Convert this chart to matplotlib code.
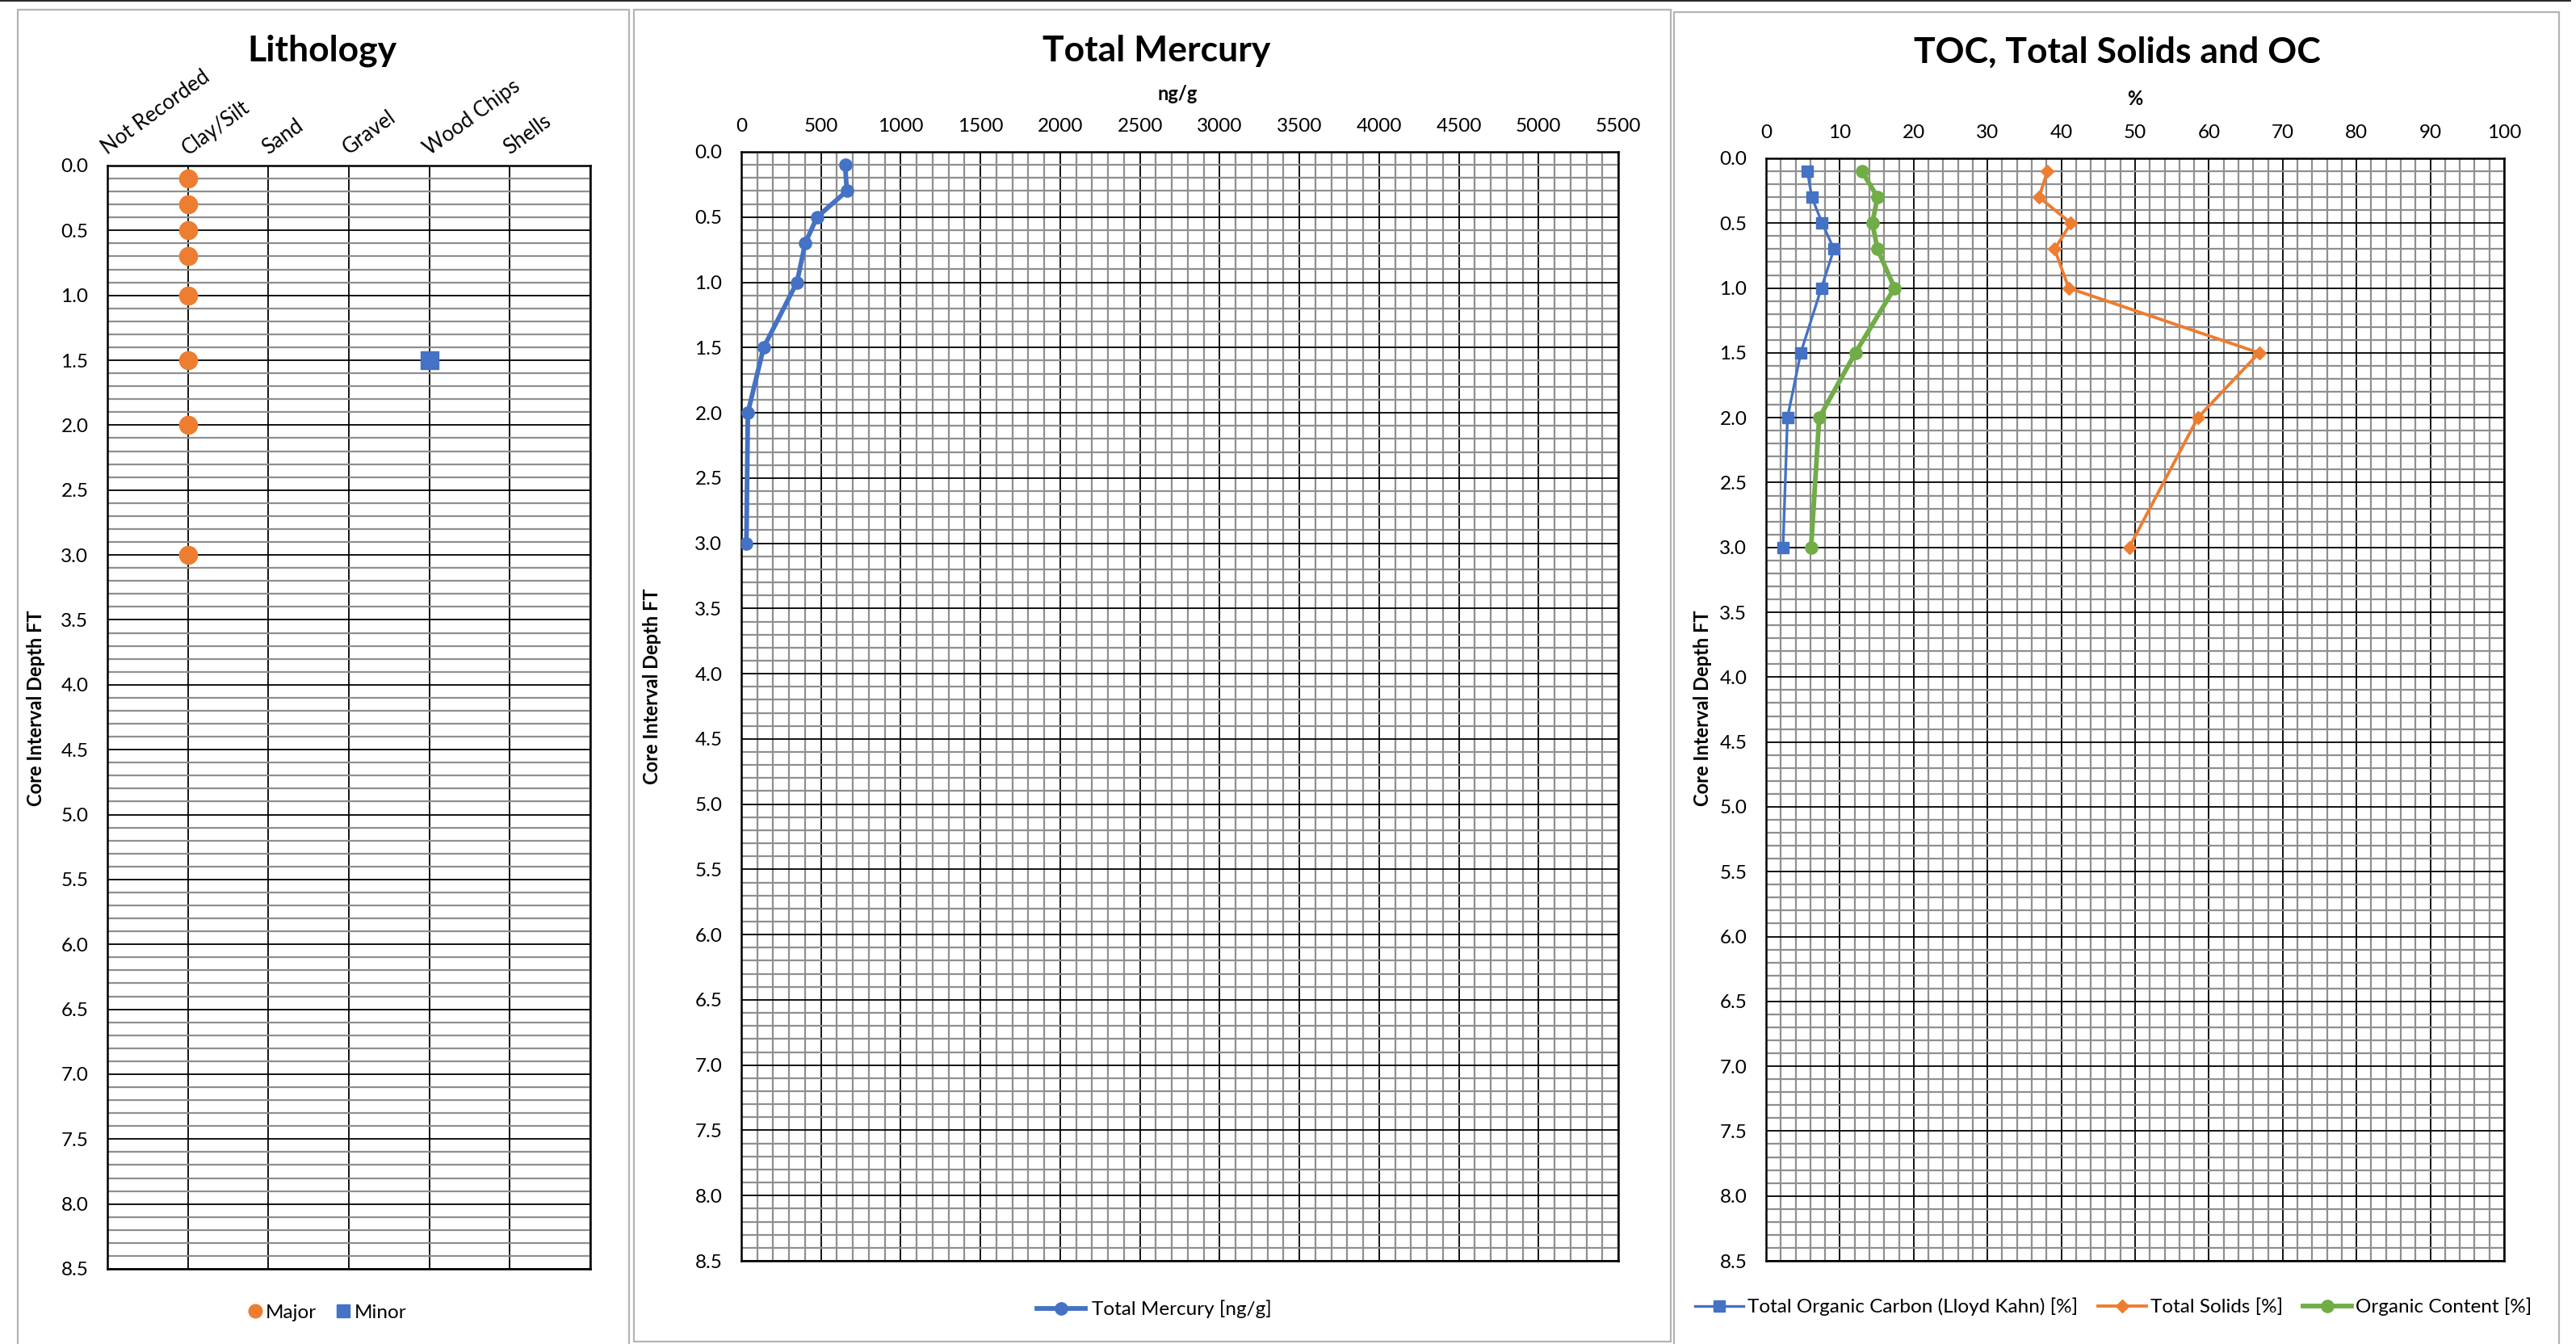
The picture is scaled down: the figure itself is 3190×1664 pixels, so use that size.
import matplotlib
matplotlib.use("Agg")
import matplotlib.pyplot as plt
from matplotlib.ticker import MultipleLocator, FormatStrFormatter
from matplotlib.patches import Rectangle
from matplotlib.lines import Line2D

plt.rcParams['font.family'] = ['Lato', 'DejaVu Sans']

# ---- data ----
litho_categories = ['Not Recorded', 'Clay/Silt', 'Sand', 'Gravel', 'Wood Chips', 'Shells']
major_depth = [0.1, 0.3, 0.5, 0.7, 1.0, 1.5, 2.0, 3.0]
major_type = ['Clay/Silt', 'Clay/Silt', 'Clay/Silt', 'Clay/Silt',
              'Clay/Silt', 'Clay/Silt', 'Clay/Silt', 'Clay/Silt']
minor_depth = [1.5]
minor_type = ['Wood Chips']

sample_depth = [0.1, 0.3, 0.5, 0.7, 1.0, 1.5, 2.0, 3.0]
mercury = [651, 662, 475, 401, 349, 140, 41, 32]
toc = [5.6, 6.2, 7.6, 9.2, 7.5, 4.7, 2.9, 2.3]
total_solids = [38.1, 37.0, 41.3, 39.1, 41.0, 66.8, 58.5, 49.2]
organic_content = [13.0, 15.1, 14.4, 15.1, 17.4, 12.1, 7.2, 6.1]

# ---- style ----
BLUE = '#4472C4'
ORANGE = '#ED7D31'
GREEN = '#70AD47'
MINOR_GRID = '#8f8f8f'
PANEL_EDGE = '#b4b4b4'
TICK_FS = 17.5
TITLE_FS = 32
LABEL_FS = 17

W, H = 3190, 1664
fig = plt.figure(figsize=(W / 100, H / 100), dpi=100)


def px_box(left, top, right, bottom):
    return [left / W, 1 - bottom / H, (right - left) / W, (bottom - top) / H]


def px_text(x, y, s, **kw):
    fig.text(x / W, 1 - y / H, s, ha='center', va='center', **kw)


def panel(left, top, right, bottom):
    fig.add_artist(Rectangle((left / W, 1 - bottom / H), (right - left) / W,
                             (bottom - top) / H, transform=fig.transFigure,
                             fill=False, ec=PANEL_EDGE, lw=1.6))


def depth_axis(ax, xmax, xmajor, xminor):
    ax.set_ylim(8.5, 0)
    ax.set_xlim(0, xmax)
    ax.yaxis.set_major_locator(MultipleLocator(0.5))
    ax.yaxis.set_minor_locator(MultipleLocator(0.1))
    ax.yaxis.set_major_formatter(FormatStrFormatter('%.1f'))
    ax.xaxis.set_major_locator(MultipleLocator(xmajor))
    if xminor:
        ax.xaxis.set_minor_locator(MultipleLocator(xminor))
    ax.xaxis.tick_top()
    ax.set_axisbelow(True)
    ax.grid(which='major', color='black', lw=1.3)
    ax.grid(which='minor', axis='y', color=MINOR_GRID, lw=1.6)
    if xminor:
        ax.grid(which='minor', axis='x', color=MINOR_GRID, lw=1.6)
    ax.tick_params(which='both', length=0, labelsize=TICK_FS)
    ax.tick_params(axis='y', pad=17)
    ax.tick_params(axis='x', pad=15)
    for sp in ax.spines.values():
        sp.set_color('black')
        sp.set_linewidth(1.8)


# thin rule across the top of the sheet
fig.add_artist(Line2D([0, 3183 / W], [1 - 1 / H, 1 - 1 / H], color='black', lw=1.2,
                      transform=fig.transFigure))

panel(22, 12, 779, 1700)
panel(785, 12, 2069, 1661)
panel(2073, 15, 3169, 1700)

# ---- Lithology ----
ax1 = fig.add_axes(px_box(133, 205, 731, 1571))
depth_axis(ax1, 6, 1, None)
ax1.set_xticks(range(7))
ax1.set_xticklabels(litho_categories + [''])
ax1.tick_params(axis='x', pad=9, labelsize=18.5)
major_x = [litho_categories.index(t) for t in major_type]
minor_x = [litho_categories.index(t) for t in minor_type]
ax1.plot(major_x, major_depth, ls='none', marker='o', ms=16, color=ORANGE,
         label='Major', zorder=3, clip_on=False)
ax1.plot(minor_x, minor_depth, ls='none', marker='s', ms=16, color=BLUE,
         label='Minor', zorder=3, clip_on=False)
plt.setp(ax1.get_xticklabels(), rotation=36, ha='left', va='baseline',
         rotation_mode='anchor')
px_text(399, 63, 'Lithology', fontsize=TITLE_FS, fontweight='bold')
px_text(45, 877, 'Core Interval Depth FT', fontsize=LABEL_FS, fontweight='bold', rotation=90)
fig.legend(handles=ax1.get_lines(), labels=['Major', 'Minor'], loc='center',
           bbox_to_anchor=(405 / W, 1 - 1625 / H), ncol=2, frameon=False,
           fontsize=TICK_FS, handlelength=0.7, handletextpad=0.2,
           columnspacing=1.0, markerscale=0.75)

# ---- Total Mercury ----
ax2 = fig.add_axes(px_box(918, 188, 2004, 1561))
depth_axis(ax2, 5500, 500, 100)
ax2.plot(mercury, sample_depth, color=BLUE, lw=4.2, marker='o', ms=11,
         label='Total Mercury [ng/g]', zorder=3)
px_text(1432, 63, 'Total Mercury', fontsize=TITLE_FS, fontweight='bold')
px_text(1458, 116, 'ng/g', fontsize=LABEL_FS, fontweight='bold')
px_text(807, 850, 'Core Interval Depth FT', fontsize=LABEL_FS, fontweight='bold', rotation=90)
fig.legend(handles=ax2.get_lines(), loc='center',
           bbox_to_anchor=(1429 / W, 1 - 1621 / H), frameon=False,
           fontsize=TICK_FS, handlelength=2.5, handletextpad=0.3)

# ---- TOC, Total Solids and OC ----
ax3 = fig.add_axes(px_box(2187, 196, 3101, 1561))
depth_axis(ax3, 100, 10, 2)
ax3.plot(toc, sample_depth, color=BLUE, lw=2.4, marker='s', ms=10,
         label='Total Organic Carbon (Lloyd Kahn) [%]', zorder=3)
ax3.plot(total_solids, sample_depth, color=ORANGE, lw=2.8, marker='D', ms=8,
         label='Total Solids [%]', zorder=3)
ax3.plot(organic_content, sample_depth, color=GREEN, lw=4.2, marker='o', ms=11,
         label='Organic Content [%]', zorder=3)
px_text(2622, 65, 'TOC, Total Solids and OC', fontsize=TITLE_FS, fontweight='bold')
px_text(2644, 122, '%', fontsize=LABEL_FS, fontweight='bold')
px_text(2108, 877, 'Core Interval Depth FT', fontsize=LABEL_FS, fontweight='bold', rotation=90)
fig.legend(handles=ax3.get_lines(), loc='center',
           bbox_to_anchor=(2617 / W, 1 - 1618 / H), ncol=3, frameon=False,
           fontsize=TICK_FS, handlelength=2.5, handletextpad=0.2,
           columnspacing=1.0)

fig.savefig('out.png', dpi=100, facecolor='white')
